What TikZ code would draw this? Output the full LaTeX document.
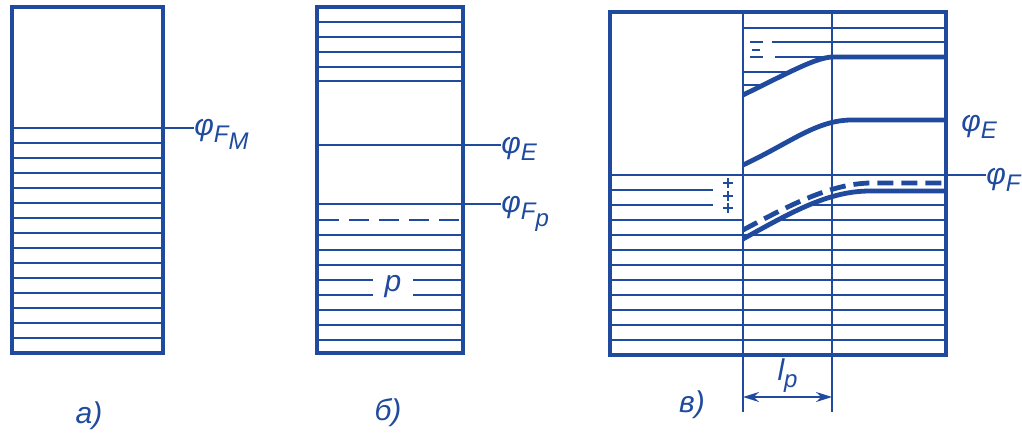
\documentclass[tikz,border=0pt]{standalone}
\usepackage{fontspec}
\setmainfont{Liberation Sans}
\usetikzlibrary{arrows.meta,positioning}
\definecolor{ink}{RGB}{32,74,158}
\newcommand\lowsub[1]{\raisebox{-3.5pt}{\fontsize{12}{12}\selectfont #1}}

\begin{document}
\begin{tikzpicture}[
    x=0.5pt, y=-0.5pt,
    panel/.style={draw=ink, line width=1.8pt},
    sheet/.style={draw=ink, line width=1.2pt},
    lead/.style={draw=ink, line width=0.8pt},
    curve/.style={draw=ink, line width=2.4pt},
    broken/.style={dash pattern=on 10pt off 5pt},
    lbl/.style={text=ink, inner sep=0pt, anchor=base west, font=\itshape\fontsize{15}{15}\selectfont},
    tag/.style={text=ink, inner sep=0pt, font=\itshape\fontsize{15}{15}\selectfont},
    dim/.style={draw=ink, line width=0.9pt, {Stealth[length=8pt,width=5pt]}-{Stealth[length=8pt,width=5pt]}}
  ]
  \useasboundingbox (0,0) rectangle (1022,443);

  % Panel a
  \draw[panel] (12,7) rectangle (163,353);
  \foreach \y in {128,143,...,338} \draw[sheet] (12,\y) -- (163,\y);
  \coordinate (fm_tip) at (163,128);
  \node[lbl] (lab_fm) at (194,136) {φ\lowsub{F\lowsub{M}}};
  \draw[lead] (fm_tip) -- (fm_tip -| lab_fm.west);
  \node[tag] (cap_a) at (89,416) {а)};

  % Panel b
  \draw[panel] (317,7) rectangle (463,353);
  \foreach \y in {22,37,52,67,81} \draw[sheet] (317,\y) -- (463,\y);
  \draw[sheet] (317,145) -- (463,145);
  \draw[sheet] (317,204) -- (463,204);
  \draw[sheet, broken] (319,220) -- (463,220);
  \foreach \y in {235,250,...,340} \draw[sheet] (317,\y) -- (463,\y);
  \node[tag, fill=white, minimum width=20pt, minimum height=12pt] (lab_p) at (393,287) {p};
  \coordinate (e_tip) at (463,145);
  \coordinate (fp_tip) at (463,204);
  \node[lbl] (lab_e) at (501,154) {φ\lowsub{E}};
  \node[lbl] (lab_fp) at (501,213) {φ\lowsub{F\lowsub{p}}};
  \draw[lead] (e_tip) -- (e_tip -| lab_e.west);
  \draw[lead] (fp_tip) -- (fp_tip -| lab_fp.west);
  \node[tag] (cap_b) at (388,413) {б)};

  % Panel c: frame and boundaries of the region
  \draw[panel] (610,12) rectangle (946,355);
  \draw[lead] (743,12) -- (743,412);
  \draw[lead] (832,12) -- (832,412);

  % upper bands
  \draw[sheet] (743,28) -- (946,28);
  \draw[sheet] (772,42) -- (946,42);
  \foreach \y in {42,57} \draw[sheet] (750,\y) -- (763,\y);
  \draw[sheet] (752,50) -- (760,50);
  \draw[sheet] (775,57) -- (832,57);
  \draw[sheet] (743,72) -- (790,72);
  \draw[sheet] (743,85) -- (763,85);
  \draw[curve] (743,95) .. controls (790,72) and (815,58) .. (832,57) -- (946,57);
  \draw[curve] (743,165) .. controls (790,143) and (815,121) .. (850,120) -- (946,120);
  \node[lbl] (lab_e2) at (961,132) {φ\lowsub{E}};

  % Fermi level
  \draw[sheet] (610,175) -- (946,175);
  \coordinate (f_tip) at (946,175);
  \node[lbl] (lab_f) at (986,185) {φ\lowsub{F}};
  \draw[lead] (f_tip) -- (f_tip -| lab_f.west);

  % lower bands
  \foreach \y in {190,205} \draw[sheet] (610,\y) -- (713,\y);
  \foreach \y in {183,196,208} \draw[lead] (723,\y) -- (733,\y) (728,\y-5) -- (728,\y+5);
  \draw[sheet] (811,205) -- (946,205);
  \draw[sheet] (610,220) -- (743,220);
  \draw[sheet] (779,220) -- (946,220);
  \foreach \y in {235,250,...,340} \draw[sheet] (610,\y) -- (946,\y);
  \draw[curve, dash pattern=on 8pt off 4pt] (743,230) .. controls (790,205) and (830,184) .. (870,183) -- (946,183);
  \draw[curve] (743,239) .. controls (795,210) and (830,191) .. (870,191) -- (946,191);

  % width of the layer
  \coordinate (lp_l) at (743,397);
  \coordinate (lp_r) at (832,397);
  \draw[dim] (lp_l) -- node[tag, above=2pt] (lab_lp) {l\lowsub{p}} (lp_r);
  \node[tag] (cap_c) at (692,405) {в)};
\end{tikzpicture}
\end{document}
